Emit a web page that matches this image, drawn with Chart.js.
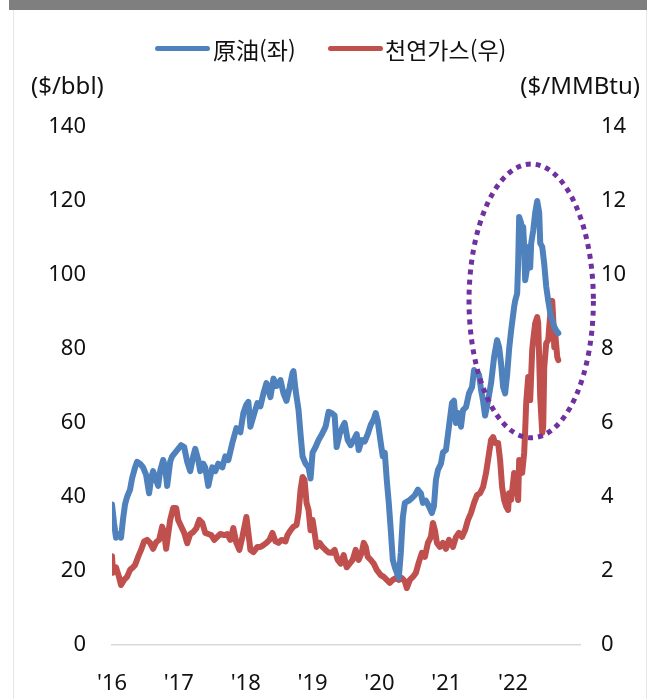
<!DOCTYPE html>
<html lang="ko">
<head>
<meta charset="utf-8">
<title>원유·천연가스 가격</title>
<script src="https://cdn.jsdelivr.net/npm/chart.js@4/dist/chart.umd.min.js"></script>
<style>
  html, body { margin: 0; padding: 0; background: #fff; }
  #wrap { position: relative; width: 662px; height: 699px; overflow: hidden; }
  #topbar { position: absolute; left: 9px; top: 0; width: 638px; height: 10px; background: #7f7f7f; }
  .frame { position: absolute; top: 10px; bottom: 0; width: 1px; background: #e6e6e6; }
  #chart { position: absolute; left: 0; top: 0; }
  .lg-bar { position: absolute; height: 5px; border-radius: 3px; }
  .lg-txt, .unit { position: absolute; height: 30px; line-height: 30px; white-space: nowrap; color: #111; }
  .lg-txt { font: 23px 'Noto Sans CJK KR', sans-serif; }
  .unit { font: 24px 'Noto Sans', sans-serif; }
</style>
</head>
<body>
<div id="wrap">
  <div id="topbar"></div>
  <div class="frame" style="left:13px"></div>
  <div class="frame" style="left:646px"></div>
  <canvas id="chart" width="662" height="699"></canvas>

  <div class="lg-bar" style="left:155px; top:46px; width:55px; background:#4F81BD"></div>
  <div class="lg-txt" style="left:213px; top:32px">原油(좌)</div>
  <div class="lg-bar" style="left:328px; top:46px; width:55px; background:#C0504D"></div>
  <div class="lg-txt" style="left:385px; top:32px">천연가스(우)</div>

  <div class="unit" style="left:31px; top:68px">($/bbl)</div>
  <div class="unit" style="right:22px; top:68px">($/MMBtu)</div>
</div>

<script>
// Crude oil, $/bbl (left axis) — dates as decimal years
const oilDates = [
  2016.000, 2016.030, 2016.060, 2016.105, 2016.135, 2016.165, 2016.195, 2016.225, 2016.270, 2016.300,
  2016.345, 2016.375, 2016.420, 2016.465, 2016.510, 2016.555, 2016.585, 2016.615, 2016.660, 2016.690,
  2016.720, 2016.765, 2016.795, 2016.825, 2016.870, 2016.900, 2016.945, 2016.990, 2017.035, 2017.080,
  2017.125, 2017.170, 2017.215, 2017.245, 2017.290, 2017.320, 2017.365, 2017.395, 2017.440, 2017.500,
  2017.545, 2017.590, 2017.650, 2017.695, 2017.740, 2017.800, 2017.860, 2017.920, 2017.965, 2018.010,
  2018.040, 2018.070, 2018.130, 2018.175, 2018.220, 2018.265, 2018.310, 2018.370, 2018.415, 2018.460,
  2018.520, 2018.565, 2018.610, 2018.655, 2018.700, 2018.715, 2018.745, 2018.790, 2018.820, 2018.850,
  2018.895, 2018.940, 2018.970, 2019.000, 2019.045, 2019.090, 2019.135, 2019.195, 2019.240, 2019.285,
  2019.330, 2019.360, 2019.405, 2019.450, 2019.480, 2019.525, 2019.570, 2019.615, 2019.660, 2019.690,
  2019.735, 2019.780, 2019.825, 2019.870, 2019.915, 2019.945, 2019.975, 2020.020, 2020.050, 2020.080,
  2020.110, 2020.140, 2020.170, 2020.200, 2020.230, 2020.260, 2020.290, 2020.320, 2020.350, 2020.380,
  2020.440, 2020.485, 2020.530, 2020.575, 2020.620, 2020.650, 2020.695, 2020.740, 2020.785, 2020.815,
  2020.845, 2020.875, 2020.920, 2020.950, 2020.995, 2021.040, 2021.085, 2021.115, 2021.145, 2021.175,
  2021.220, 2021.250, 2021.295, 2021.340, 2021.385, 2021.415, 2021.460, 2021.490, 2021.520, 2021.550,
  2021.580, 2021.625, 2021.670, 2021.715, 2021.760, 2021.790, 2021.820, 2021.850, 2021.880, 2021.910,
  2021.940, 2021.970, 2022.015, 2022.030, 2022.060, 2022.075, 2022.090, 2022.120, 2022.135, 2022.150,
  2022.165, 2022.180, 2022.210, 2022.225, 2022.255, 2022.270, 2022.300, 2022.330, 2022.360, 2022.390,
  2022.405, 2022.435, 2022.465, 2022.495, 2022.525, 2022.555, 2022.585, 2022.615, 2022.645, 2022.675
];
const oilPrices = [
  38, 33, 29, 30, 29, 34, 38, 40, 42, 45,
  48, 49.5, 49, 48, 46, 41, 45, 47, 44.6, 43,
  47, 50, 48, 43, 49.5, 51, 52, 53, 54, 53.5,
  49.5, 47, 51, 53, 50, 47, 49, 48, 43, 48,
  47, 49, 48, 51, 50, 54.6, 58.6, 57.5, 62.7, 65,
  65.7, 59, 62.7, 65.4, 64.5, 68, 70.8, 67, 72, 70,
  71.6, 68, 66, 69.5, 73.5, 74, 69, 63.5, 57, 51,
  49, 48, 45, 52, 53.5, 55.4, 56.8, 59, 63, 62.7,
  62, 53.5, 57, 59, 60, 55.4, 54, 55.4, 57, 52.7,
  55.4, 55, 57, 59.5, 61, 62.7, 60.5, 54.6, 51, 52,
  44.6, 38.4, 31, 23, 21, 19.5, 18.2, 25, 34.5, 38.4,
  39, 39.7, 40.5, 42, 41, 38.4, 39, 37.5, 35.7, 37.5,
  44.6, 47.3, 49, 52, 52.7, 59, 65.4, 66, 60, 62.7,
  59, 63.5, 64.3, 68, 69.7, 74.3, 73.5, 73, 69, 66,
  62, 66, 70.8, 77.8, 82.4, 80.5, 76, 69.7, 68, 73,
  80, 85, 91.4, 93, 95, 103, 115.7, 114, 107.6, 113,
  107.6, 98.6, 102, 107.6, 102, 108.6, 112, 116.8, 120, 116.8,
  108.6, 107.6, 103, 96.8, 93, 89.7, 87.8, 86, 85, 84.3
];

// Natural gas, $/MMBtu (right axis)
const gasDates = [
  2016.000, 2016.015, 2016.060, 2016.105, 2016.135, 2016.180, 2016.225, 2016.270, 2016.315, 2016.345,
  2016.390, 2016.435, 2016.480, 2016.525, 2016.570, 2016.615, 2016.660, 2016.705, 2016.750, 2016.780,
  2016.810, 2016.870, 2016.915, 2016.960, 2016.990, 2017.035, 2017.080, 2017.125, 2017.170, 2017.215,
  2017.260, 2017.305, 2017.350, 2017.395, 2017.440, 2017.485, 2017.530, 2017.575, 2017.620, 2017.680,
  2017.725, 2017.770, 2017.815, 2017.860, 2017.905, 2017.950, 2018.010, 2018.040, 2018.070, 2018.115,
  2018.175, 2018.220, 2018.265, 2018.310, 2018.355, 2018.400, 2018.445, 2018.490, 2018.535, 2018.595,
  2018.625, 2018.670, 2018.715, 2018.760, 2018.790, 2018.820, 2018.850, 2018.880, 2018.910, 2018.940,
  2018.970, 2019.000, 2019.030, 2019.060, 2019.105, 2019.150, 2019.195, 2019.240, 2019.285, 2019.330,
  2019.375, 2019.420, 2019.465, 2019.510, 2019.555, 2019.600, 2019.645, 2019.690, 2019.735, 2019.765,
  2019.795, 2019.825, 2019.870, 2019.915, 2019.960, 2020.020, 2020.065, 2020.110, 2020.155, 2020.200,
  2020.245, 2020.290, 2020.335, 2020.380, 2020.410, 2020.455, 2020.500, 2020.545, 2020.590, 2020.635,
  2020.680, 2020.725, 2020.770, 2020.800, 2020.830, 2020.860, 2020.905, 2020.950, 2020.995, 2021.040,
  2021.100, 2021.145, 2021.190, 2021.235, 2021.280, 2021.325, 2021.370, 2021.415, 2021.460, 2021.505,
  2021.550, 2021.595, 2021.640, 2021.670, 2021.700, 2021.730, 2021.775, 2021.805, 2021.835, 2021.865,
  2021.895, 2021.925, 2021.940, 2021.970, 2022.015, 2022.045, 2022.075, 2022.090, 2022.135, 2022.165,
  2022.180, 2022.195, 2022.225, 2022.240, 2022.255, 2022.285, 2022.300, 2022.330, 2022.360, 2022.375,
  2022.390, 2022.405, 2022.435, 2022.450, 2022.465, 2022.495, 2022.525, 2022.540, 2022.570, 2022.585,
  2022.600, 2022.615, 2022.630, 2022.660, 2022.675
];
const gasPrices = [
  2.4, 1.95, 2.1, 1.84, 1.62, 1.76, 1.84, 2.03, 2.1, 2.16,
  2.38, 2.57, 2.8, 2.84, 2.76, 2.6, 2.78, 2.84, 3.2, 3.03,
  2.6, 3.38, 3.7, 3.7, 3.38, 3.2, 3.03, 2.75, 3.0, 3.05,
  3.15, 3.38, 3.3, 3.03, 3.0, 2.97, 2.84, 2.92, 3.0, 2.97,
  3.0, 2.84, 3.16, 2.76, 2.57, 2.92, 3.46, 3.03, 2.57, 2.51,
  2.65, 2.65, 2.7, 2.76, 2.84, 3.03, 2.8, 2.76, 2.84, 2.8,
  2.97, 3.1, 3.2, 3.24, 3.57, 4.19, 4.54, 4.46, 3.84, 3.65,
  3.1, 3.38, 3.03, 2.65, 2.76, 2.65, 2.57, 2.5, 2.49, 2.57,
  2.3, 2.2, 2.43, 2.1, 2.2, 2.3, 2.57, 2.3, 2.49, 2.76,
  2.65, 2.38, 2.3, 2.2, 2.03, 1.89, 1.84, 1.76, 1.68, 1.76,
  1.81, 1.76, 1.81, 1.72, 1.54, 1.76, 1.84, 1.95, 2.24, 2.49,
  2.38, 2.76, 2.92, 3.3, 3.1, 2.76, 2.65, 2.76, 2.6, 2.84,
  2.65, 2.92, 3.03, 2.92, 3.1, 3.38, 3.57, 3.84, 4.05, 4.1,
  4.27, 4.65, 5.19, 5.54, 5.62, 5.46, 5.46, 5.0, 4.27, 3.92,
  3.75, 3.65, 4.1, 3.92, 4.65, 4.46, 3.92, 5.0, 4.65, 5.19,
  5.8, 6.54, 7.24, 7.1, 6.62, 7.97, 8.24, 8.7, 8.86, 8.7,
  7.7, 6.7, 5.73, 5.9, 7.5, 8.16, 8.24, 8.6, 9.24, 9.3,
  8.8, 8.05, 8.4, 7.78, 7.7
];

// Year tick labels shown under the x axis
const yearLabels = ["'16", "'17", "'18", "'19", "'20", "'21", "'22"];

// Dotted ellipse around the 2022 price spike (x in years, y in $/bbl)
const spikeEllipse = { xMin: 2021.34, xMax: 2023.2, yMin: 56, yMax: 130 };

const pairs = (xs, ys) => xs.map((x, i) => ({ x, y: ys[i] }));

const ellipsePlugin = {
  id: 'spikeEllipse',
  afterDatasetsDraw(chart) {
    const { ctx, scales } = chart;
    const x0 = scales.x.getPixelForValue(spikeEllipse.xMin);
    const x1 = scales.x.getPixelForValue(spikeEllipse.xMax);
    const y0 = scales.y.getPixelForValue(spikeEllipse.yMax);
    const y1 = scales.y.getPixelForValue(spikeEllipse.yMin);
    ctx.save();
    ctx.strokeStyle = '#7030A0';
    ctx.lineWidth = 5;
    ctx.setLineDash([5, 5]);
    ctx.beginPath();
    ctx.ellipse((x0 + x1) / 2, (y0 + y1) / 2, (x1 - x0) / 2, (y1 - y0) / 2, 0, 0, Math.PI * 2);
    ctx.stroke();
    ctx.restore();
  }
};

Chart.defaults.font.family = "'Noto Sans', sans-serif";
Chart.defaults.font.size = 22;
Chart.defaults.color = '#111';

new Chart(document.getElementById('chart'), {
  type: 'line',
  data: {
    datasets: [
      {
        label: '原油(좌)',
        data: pairs(oilDates, oilPrices),
        yAxisID: 'y',
        borderColor: '#4F81BD',
        borderWidth: 6,
        pointRadius: 0,
        tension: 0,
        borderJoinStyle: 'round',
        borderCapStyle: 'round'
      },
      {
        label: '천연가스(우)',
        data: pairs(gasDates, gasPrices),
        yAxisID: 'y2',
        borderColor: '#C0504D',
        borderWidth: 6,
        pointRadius: 0,
        tension: 0,
        borderJoinStyle: 'round',
        borderCapStyle: 'round'
      }
    ]
  },
  options: {
    responsive: false,
    animation: false,
    layout: { padding: { top: 127, left: 0, right: 0, bottom: 0 } },
    plugins: { legend: { display: false }, tooltip: { enabled: false } },
    scales: {
      x: {
        type: 'linear',
        min: 2016,
        max: 2023,
        grid: { display: false, drawTicks: false, tickLength: 0 },
        border: { display: true, color: '#d9d9d9', width: 1.5 },
        ticks: {
          stepSize: 1,
          autoSkip: false,
          maxRotation: 0,
          padding: 26,
          callback: (v) => yearLabels[v - 2016] ?? ''
        },
        afterFit: (s) => { s.height = 54; }
      },
      y: {
        position: 'left',
        min: 0,
        max: 140,
        grid: { display: false, drawTicks: false, tickLength: 0 },
        border: { display: false },
        ticks: { stepSize: 20, padding: 26 },
        afterFit: (s) => { s.width = 112; }
      },
      y2: {
        position: 'right',
        min: 0,
        max: 14,
        grid: { display: false, drawTicks: false, tickLength: 0 },
        border: { display: false },
        ticks: { stepSize: 2, padding: 21 },
        afterFit: (s) => { s.width = 82; }
      }
    }
  },
  plugins: [ellipsePlugin]
});
</script>
</body>
</html>
